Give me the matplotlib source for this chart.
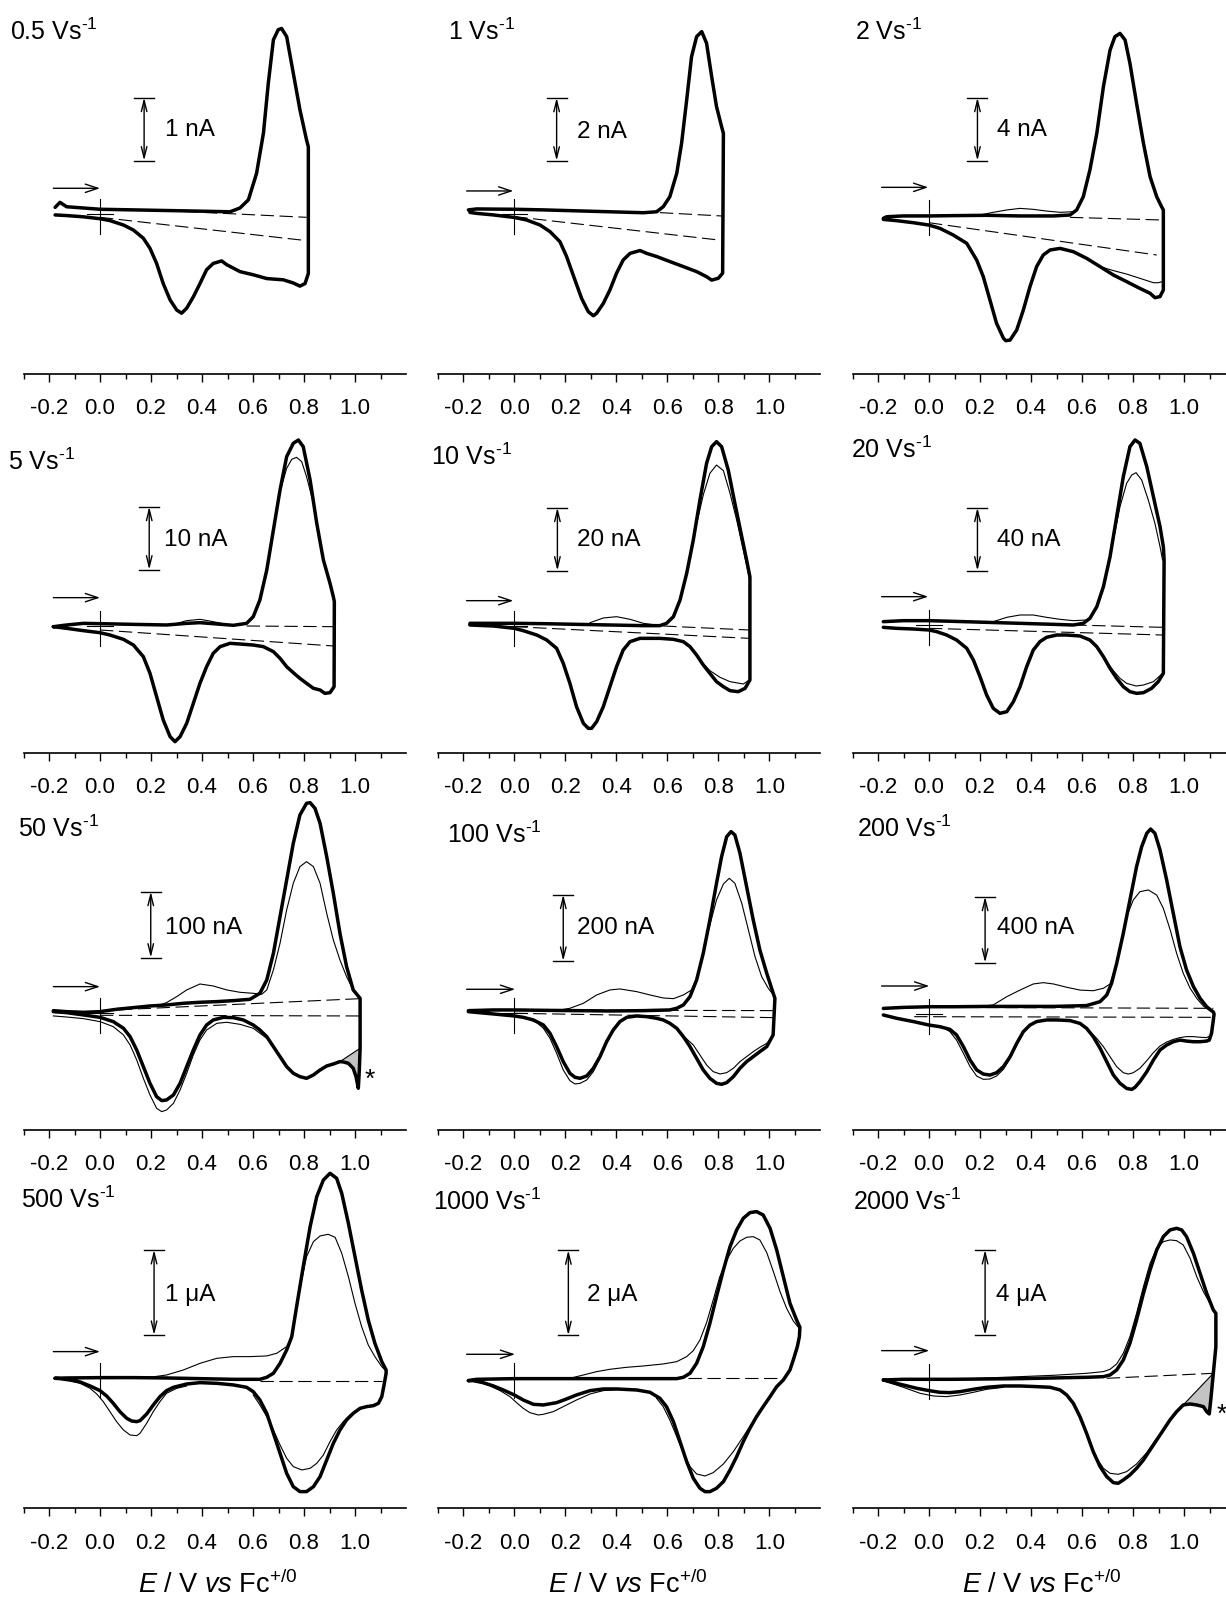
import matplotlib
matplotlib.use("Agg")
import matplotlib.pyplot as plt
from matplotlib.patches import Polygon

plt.rcParams['font.family'] = ['Liberation Sans', 'DejaVu Sans']
plt.rcParams['mathtext.fontset'] = 'custom'
plt.rcParams['mathtext.rm'] = 'Liberation Sans'
plt.rcParams['mathtext.it'] = 'Liberation Sans:italic'
plt.rcParams['mathtext.bf'] = 'Liberation Sans:bold'

# ---------------- data ----------------
# E in V vs Fc+/0, currents in nA (0.5 ... 200 V/s) or uA (500 ... 2000 V/s)

# 0.5 V/s
e05_f = [-0.176, -0.157, -0.131, 0.0, 0.131, 0.261, 0.392, 0.510, 0.549, 0.582, 0.614, 0.641, 0.660, 0.680, 0.699, 0.712, 0.732, 0.758, 0.784, 0.810, 0.817]
i05_f = [0.11, 0.19, 0.12, 0.08, 0.07, 0.06, 0.05, 0.04, 0.10, 0.23, 0.65, 1.29, 2.08, 2.77, 2.93, 2.95, 2.82, 2.24, 1.66, 1.18, 1.07]
e05_r = [0.817, 0.804, 0.784, 0.758, 0.719, 0.654, 0.601, 0.549, 0.497, 0.477, 0.444, 0.418, 0.392, 0.366, 0.340, 0.320, 0.301, 0.275, 0.248, 0.222, 0.196, 0.170, 0.131, 0.092, 0.039, 0.0, -0.065, -0.131, -0.176]
i05_r = [-0.94, -1.10, -1.14, -1.09, -1.04, -1.02, -0.96, -0.91, -0.80, -0.74, -0.78, -0.88, -1.10, -1.31, -1.49, -1.57, -1.52, -1.36, -1.10, -0.78, -0.54, -0.38, -0.25, -0.17, -0.10, -0.07, -0.04, -0.02, -0.01]

# 1 V/s
e1_f = [-0.180, -0.148, 0.0, 0.114, 0.244, 0.375, 0.506, 0.558, 0.584, 0.610, 0.637, 0.656, 0.676, 0.695, 0.715, 0.735, 0.754, 0.774, 0.793, 0.813, 0.820]
i1_f = [0.14, 0.17, 0.16, 0.14, 0.11, 0.08, 0.05, 0.08, 0.24, 0.56, 1.30, 2.25, 3.63, 5.00, 5.64, 5.80, 5.43, 4.37, 3.42, 2.78, 2.57]
e1_r = [0.817, 0.800, 0.774, 0.754, 0.715, 0.663, 0.610, 0.558, 0.519, 0.493, 0.454, 0.427, 0.401, 0.375, 0.349, 0.323, 0.310, 0.290, 0.264, 0.238, 0.205, 0.179, 0.140, 0.101, 0.048, 0.0, -0.082, -0.148, -0.174]
i1_r = [-1.87, -2.03, -2.09, -1.98, -1.82, -1.66, -1.50, -1.34, -1.24, -1.15, -1.24, -1.45, -1.87, -2.40, -2.83, -3.14, -3.22, -3.09, -2.67, -2.09, -1.34, -0.87, -0.55, -0.34, -0.18, -0.10, -0.02, 0.03, 0.06]

# 2 V/s
e2_f = [-0.179, -0.166, -0.101, 0.0, 0.095, 0.226, 0.357, 0.488, 0.553, 0.579, 0.605, 0.631, 0.658, 0.684, 0.710, 0.729, 0.749, 0.769, 0.788, 0.814, 0.841, 0.867, 0.893, 0.912, 0.919]
i2_f = [-0.21, -0.11, -0.06, -0.06, -0.04, -0.02, -0.06, -0.06, 0.0, 0.32, 1.16, 2.86, 5.18, 8.15, 10.47, 11.32, 11.53, 11.11, 9.63, 7.09, 4.55, 2.43, 1.16, 0.53, 0.32]
e2_r = [0.919, 0.906, 0.886, 0.867, 0.827, 0.775, 0.723, 0.671, 0.618, 0.566, 0.514, 0.475, 0.448, 0.422, 0.396, 0.370, 0.344, 0.318, 0.301, 0.292, 0.265, 0.239, 0.213, 0.187, 0.148, 0.095, 0.043, 0.0, -0.061, -0.127, -0.179]
i2_r = [-4.76, -5.18, -5.25, -4.97, -4.66, -4.23, -3.81, -3.28, -2.75, -2.33, -2.12, -2.22, -2.54, -3.28, -4.55, -6.03, -7.30, -7.94, -7.98, -7.83, -6.88, -5.40, -3.92, -2.86, -1.80, -1.27, -0.85, -0.64, -0.49, -0.36, -0.28]
e2_t1 = [0.200, 0.252, 0.305, 0.357, 0.409, 0.461, 0.514, 0.566]
i2_t1 = [0.0, 0.17, 0.32, 0.42, 0.36, 0.25, 0.17, 0.21]
e2_t2 = [0.916, 0.899, 0.880, 0.827, 0.775, 0.723, 0.671]
i2_t2 = [-4.23, -4.30, -4.30, -4.02, -3.75, -3.53, -3.28]

# 5 V/s
e5_f = [-0.183, -0.131, -0.065, 0.0, 0.131, 0.261, 0.340, 0.392, 0.458, 0.523, 0.575, 0.601, 0.627, 0.654, 0.680, 0.706, 0.732, 0.758, 0.778, 0.797, 0.824, 0.850, 0.876, 0.902, 0.915, 0.919]
i5_f = [-0.11, 0.16, 0.42, 0.37, 0.26, 0.16, 0.42, 0.53, 0.32, 0.11, 0.42, 1.48, 4.13, 8.89, 15.24, 21.59, 26.88, 29.00, 29.52, 28.47, 23.17, 16.30, 10.48, 6.77, 4.66, 3.86]
e5_r = [0.918, 0.902, 0.882, 0.863, 0.837, 0.810, 0.784, 0.758, 0.732, 0.706, 0.680, 0.641, 0.601, 0.549, 0.510, 0.471, 0.444, 0.418, 0.392, 0.366, 0.340, 0.314, 0.294, 0.275, 0.248, 0.222, 0.196, 0.170, 0.131, 0.092, 0.039, 0.0, -0.065, -0.131, -0.183]
i5_r = [-9.63, -10.58, -10.69, -10.16, -9.89, -9.10, -8.31, -7.41, -6.46, -5.13, -4.07, -3.28, -3.02, -2.86, -2.75, -3.28, -4.34, -6.46, -9.10, -12.28, -15.45, -17.57, -18.36, -17.57, -14.92, -11.22, -7.51, -4.87, -3.02, -2.12, -1.43, -1.06, -0.74, -0.37, -0.11]
e5_t1 = [0.706, 0.732, 0.752, 0.771, 0.791, 0.810, 0.837]
i5_t1 = [21.32, 25.03, 26.46, 26.77, 26.08, 23.70, 19.47]
e5_t2 = [0.288, 0.340, 0.392, 0.444, 0.497]
i5_t2 = [0.26, 0.85, 1.06, 0.69, 0.26]

# 10 V/s
e10_f = [-0.174, -0.082, 0.0, 0.114, 0.244, 0.375, 0.506, 0.571, 0.597, 0.624, 0.650, 0.676, 0.702, 0.728, 0.754, 0.774, 0.793, 0.813, 0.839, 0.865, 0.892, 0.911, 0.924]
i10_f = [0.85, 0.85, 0.85, 0.74, 0.53, 0.32, 0.11, 0.11, 0.85, 2.96, 8.25, 16.72, 27.30, 40.0, 51.64, 56.93, 58.52, 56.93, 49.52, 38.94, 28.36, 20.95, 15.6]
e10_r = [0.924, 0.905, 0.878, 0.846, 0.820, 0.793, 0.767, 0.741, 0.715, 0.689, 0.663, 0.624, 0.571, 0.519, 0.493, 0.454, 0.427, 0.401, 0.375, 0.349, 0.323, 0.303, 0.290, 0.271, 0.244, 0.218, 0.192, 0.166, 0.127, 0.088, 0.035, 0.0, -0.082, -0.174]
i10_r = [-17.14, -19.79, -20.85, -20.53, -19.26, -17.67, -15.03, -12.38, -9.21, -6.56, -4.97, -4.23, -3.92, -3.92, -3.92, -4.97, -7.62, -12.91, -19.26, -25.61, -30.37, -32.49, -32.49, -30.90, -25.61, -18.20, -11.85, -7.09, -4.44, -2.86, -1.48, -0.74, 0.0, 0.32]
e10_t1 = [0.715, 0.741, 0.767, 0.793, 0.820, 0.846, 0.872, 0.898, 0.922]
i10_t1 = [32.38, 41.59, 48.47, 51.11, 49.31, 42.12, 33.65, 24.13, 15.13]
e10_t2 = [0.297, 0.349, 0.401, 0.454, 0.506, 0.558]
i10_t2 = [1.06, 2.54, 2.96, 2.12, 0.85, 0.32]
e10_t3 = [0.922, 0.898, 0.846, 0.807, 0.767, 0.728]
i10_t3 = [-17.14, -18.41, -17.67, -16.30, -14.18, -10.79]

# 20 V/s
e20_f = [-0.179, -0.101, 0.0, 0.095, 0.226, 0.357, 0.488, 0.566, 0.605, 0.631, 0.658, 0.684, 0.710, 0.736, 0.762, 0.788, 0.808, 0.827, 0.854, 0.880, 0.906, 0.919, 0.922]
i20_f = [2.12, 2.75, 2.75, 2.33, 1.69, 1.06, 0.42, 0.0, 1.06, 4.23, 11.64, 24.34, 43.39, 68.78, 94.18, 113.23, 117.46, 115.34, 100.53, 81.48, 62.43, 49.74, 41.27]
e20_r = [0.919, 0.899, 0.873, 0.841, 0.814, 0.788, 0.762, 0.736, 0.710, 0.684, 0.658, 0.631, 0.592, 0.540, 0.501, 0.461, 0.435, 0.409, 0.383, 0.357, 0.331, 0.305, 0.278, 0.252, 0.226, 0.200, 0.174, 0.148, 0.108, 0.069, 0.030, 0.0, -0.061, -0.127, -0.179]
i20_r = [-30.69, -35.98, -40.21, -42.96, -43.39, -42.33, -39.15, -33.86, -27.51, -20.11, -13.76, -9.52, -6.98, -6.35, -6.35, -7.83, -10.58, -15.87, -26.46, -39.15, -48.68, -55.03, -56.08, -52.91, -44.44, -32.80, -22.22, -14.81, -9.52, -6.35, -4.23, -3.17, -2.54, -2.12, -1.48]
e20_t1 = [0.723, 0.749, 0.775, 0.795, 0.812, 0.834, 0.860, 0.886, 0.906, 0.916]
i20_t1 = [53.97, 75.13, 89.95, 95.24, 96.72, 92.06, 79.37, 64.55, 49.74, 41.27]
e20_t2 = [0.252, 0.305, 0.357, 0.409, 0.461, 0.514, 0.566, 0.618]
i20_t2 = [2.12, 4.87, 6.35, 6.35, 4.87, 3.60, 2.75, 3.17]
e20_t3 = [0.916, 0.880, 0.841, 0.812, 0.775, 0.749, 0.723, 0.697]
i20_t3 = [-30.69, -35.98, -38.10, -38.73, -37.04, -33.86, -28.99, -23.28]

# 50 V/s
e50_f = [-0.183, -0.131, -0.065, 0.0, 0.065, 0.131, 0.196, 0.261, 0.327, 0.392, 0.458, 0.523, 0.588, 0.627, 0.654, 0.680, 0.706, 0.732, 0.758, 0.784, 0.810, 0.824, 0.843, 0.863, 0.889, 0.915, 0.941, 0.967, 0.993, 1.020]
i50_f = [4.0, 2.5, 1.5, 2.5, 6.1, 8.6, 11.1, 12.6, 15.2, 16.7, 17.7, 19.2, 21.2, 30.3, 50.5, 90.9, 146.5, 202.0, 257.6, 300.5, 318.2, 319.2, 310.6, 287.9, 237.4, 181.8, 121.2, 70.7, 35.4, 22.7]
e50_r = [1.020, 1.017, 1.013, 1.004, 0.993, 0.974, 0.954, 0.941, 0.915, 0.889, 0.863, 0.837, 0.810, 0.784, 0.758, 0.732, 0.706, 0.680, 0.654, 0.627, 0.601, 0.562, 0.523, 0.484, 0.444, 0.418, 0.392, 0.366, 0.340, 0.314, 0.288, 0.261, 0.242, 0.222, 0.196, 0.170, 0.144, 0.118, 0.092, 0.052, 0.0, -0.065, -0.131, -0.183]
i50_r = [-53.0, -85.9, -113.6, -96.0, -83.3, -75.8, -73.7, -73.2, -76.8, -79.8, -85.9, -93.4, -98.5, -96.0, -90.9, -80.8, -65.7, -50.5, -35.4, -25.3, -17.7, -10.1, -6.6, -6.1, -10.1, -17.7, -32.8, -55.6, -80.8, -106.1, -123.7, -131.3, -132.3, -126.3, -106.1, -80.8, -55.6, -35.4, -22.7, -12.6, -6.1, -2.5, 1.0, 2.5]
e50_t1 = [0.235, 0.261, 0.301, 0.340, 0.392, 0.444, 0.497, 0.549, 0.601, 0.634, 0.654, 0.680, 0.706, 0.732, 0.758, 0.784, 0.810, 0.837, 0.863, 0.889, 0.915, 0.941, 0.967, 0.993, 1.017]
i50_t1 = [12.6, 16.2, 25.3, 35.4, 44.4, 41.4, 35.4, 31.8, 30.3, 28.8, 35.4, 65.7, 106.1, 156.6, 197.0, 222.2, 229.8, 222.2, 197.0, 151.5, 111.1, 80.8, 55.6, 35.4, 22.7]
e50_t2 = [0.654, 0.601, 0.549, 0.497, 0.458, 0.418, 0.392, 0.366, 0.340, 0.314, 0.288, 0.261, 0.242, 0.222, 0.196, 0.170, 0.144, 0.118, 0.092, 0.052, 0.0, -0.065, -0.131, -0.183]
i50_t2 = [-37.9, -22.7, -16.7, -13.6, -15.2, -25.3, -40.4, -63.1, -90.9, -116.2, -136.4, -146.5, -149.0, -143.9, -123.7, -98.5, -70.7, -48.0, -32.8, -20.2, -12.6, -8.1, -5.6, -4.0]

# 100 V/s
e100_f = [-0.180, -0.082, 0.0, 0.114, 0.244, 0.375, 0.506, 0.610, 0.637, 0.663, 0.689, 0.715, 0.741, 0.767, 0.793, 0.813, 0.833, 0.850, 0.865, 0.885, 0.911, 0.937, 0.963, 0.990, 1.009, 1.022]
i100_f = [8.0, 10.1, 10.1, 9.0, 8.0, 7.0, 8.0, 10.1, 15.1, 25.1, 50.3, 100.5, 180.9, 281.4, 392.0, 472.4, 532.7, 547.7, 537.7, 482.4, 381.9, 281.4, 191.0, 120.6, 75.4, 45.2]
e100_r = [1.015, 0.990, 0.963, 0.937, 0.911, 0.885, 0.859, 0.833, 0.813, 0.793, 0.767, 0.741, 0.715, 0.689, 0.663, 0.637, 0.610, 0.584, 0.558, 0.519, 0.480, 0.441, 0.414, 0.388, 0.362, 0.336, 0.310, 0.284, 0.258, 0.238, 0.218, 0.192, 0.166, 0.140, 0.114, 0.075, 0.035, 0.0, -0.082, -0.180]
i100_r = [-65.3, -100.5, -115.6, -130.7, -145.7, -165.8, -191.0, -209.0, -214.1, -211.1, -196.0, -170.9, -135.7, -100.5, -70.4, -45.2, -30.2, -20.1, -15.1, -10.1, -8.0, -12.1, -25.1, -50.3, -85.4, -130.7, -165.8, -188.9, -196.0, -193.0, -180.9, -145.7, -100.5, -60.3, -35.2, -20.1, -12.1, -8.0, -2.0, 5.0]
e100_t1 = [0.170, 0.218, 0.271, 0.323, 0.375, 0.414, 0.480, 0.532, 0.584, 0.624, 0.663, 0.695, 0.715, 0.741, 0.767, 0.793, 0.820, 0.843, 0.865, 0.892, 0.918, 0.944, 0.970, 0.996, 1.016]
i100_t1 = [9.0, 15.1, 30.2, 55.3, 70.4, 73.4, 65.3, 55.3, 46.2, 44.2, 55.3, 70.4, 105.5, 185.9, 266.3, 341.7, 389.9, 407.0, 392.0, 331.7, 251.3, 170.9, 110.6, 75.4, 55.3]
e100_t2 = [1.013, 0.990, 0.963, 0.937, 0.911, 0.885, 0.859, 0.833, 0.807, 0.780, 0.754, 0.728, 0.702, 0.663]
i100_t2 = [-70.4, -90.5, -102.5, -115.6, -130.7, -145.7, -165.8, -178.9, -182.9, -175.9, -155.8, -125.6, -95.5, -68.3]
e100_t3 = [0.388, 0.362, 0.336, 0.310, 0.284, 0.258, 0.238, 0.218, 0.192, 0.166, 0.140, 0.114, 0.088, 0.048]
i100_t3 = [-52.3, -90.5, -135.7, -175.9, -201.0, -211.1, -213.1, -203.0, -170.9, -120.6, -75.4, -45.2, -28.1, -15.1]

# 200 V/s
e200_f = [-0.179, -0.101, 0.0, 0.095, 0.226, 0.357, 0.488, 0.618, 0.671, 0.697, 0.716, 0.736, 0.762, 0.788, 0.814, 0.834, 0.854, 0.869, 0.886, 0.906, 0.932, 0.958, 0.984, 1.010, 1.037, 1.063, 1.089, 1.115]
i200_f = [34, 40, 44, 44, 46, 46, 46, 51, 75, 115, 186, 307, 489, 691, 893, 1014, 1095, 1121, 1095, 994, 812, 610, 408, 267, 166, 95, 44, 12]
e200_r = [1.118, 1.115, 1.108, 1.099, 1.089, 1.063, 1.037, 1.010, 0.984, 0.958, 0.932, 0.906, 0.880, 0.854, 0.827, 0.808, 0.795, 0.775, 0.749, 0.723, 0.697, 0.671, 0.644, 0.618, 0.592, 0.553, 0.501, 0.461, 0.422, 0.396, 0.370, 0.344, 0.318, 0.292, 0.265, 0.239, 0.213, 0.187, 0.161, 0.135, 0.108, 0.082, 0.043, 0.0, -0.061, -0.127, -0.179]
i200_r = [0, -36, -117, -158, -164, -168, -168, -164, -158, -168, -188, -218, -279, -350, -410, -444, -457, -451, -420, -370, -289, -208, -137, -87, -57, -40, -36, -36, -46, -67, -107, -178, -259, -319, -356, -370, -364, -339, -279, -198, -127, -93, -77, -67, -46, -26, -6]
e200_t1 = [0.200, 0.252, 0.305, 0.357, 0.409, 0.448, 0.488, 0.540, 0.592, 0.644, 0.684, 0.710, 0.736, 0.762, 0.775, 0.801, 0.827, 0.860, 0.893, 0.919, 0.946, 0.971, 0.997, 1.024, 1.050, 1.076, 1.102, 1.115]
i200_t1 = [46, 55, 105, 145, 182, 190, 182, 162, 145, 141, 156, 182, 307, 489, 590, 691, 741, 752, 721, 640, 509, 368, 247, 156, 95, 48, 20, 8]
e200_t2 = [1.108, 1.089, 1.063, 1.037, 1.010, 0.984, 0.958, 0.932, 0.906, 0.880, 0.854, 0.827, 0.801, 0.782, 0.762, 0.736, 0.710, 0.684, 0.658, 0.631]
i200_t2 = [-127, -143, -141, -137, -137, -143, -154, -170, -194, -234, -283, -329, -356, -364, -356, -319, -259, -198, -148, -107]
e200_t3 = [0.370, 0.344, 0.318, 0.292, 0.265, 0.239, 0.213, 0.187, 0.161, 0.135, 0.108, 0.082, 0.056]
i200_t3 = [-111, -188, -269, -335, -376, -394, -396, -376, -319, -238, -158, -107, -83]

# 500 V/s (uA)
e500_f = [-0.176, -0.131, 0.0, 0.131, 0.261, 0.392, 0.523, 0.627, 0.654, 0.680, 0.706, 0.732, 0.752, 0.771, 0.797, 0.824, 0.850, 0.876, 0.902, 0.928, 0.948, 0.974, 1.000, 1.026, 1.052, 1.078, 1.105, 1.122]
i500_f = [0.0, 0.004, 0.008, 0.008, 0.004, -0.004, -0.012, -0.012, 0.012, 0.059, 0.176, 0.333, 0.490, 0.843, 1.314, 1.784, 2.137, 2.333, 2.412, 2.353, 2.176, 1.824, 1.431, 1.039, 0.686, 0.412, 0.196, 0.098]
e500_r = [1.122, 1.114, 1.105, 1.092, 1.072, 1.046, 1.020, 0.993, 0.967, 0.941, 0.915, 0.889, 0.863, 0.837, 0.810, 0.784, 0.758, 0.732, 0.706, 0.680, 0.654, 0.627, 0.601, 0.575, 0.523, 0.458, 0.392, 0.340, 0.288, 0.261, 0.235, 0.209, 0.183, 0.157, 0.144, 0.124, 0.105, 0.078, 0.052, 0.026, 0.0, -0.039, -0.078, -0.118, -0.157, -0.176]
i500_r = [0.059, -0.078, -0.216, -0.294, -0.322, -0.333, -0.353, -0.412, -0.490, -0.608, -0.765, -0.961, -1.157, -1.275, -1.333, -1.333, -1.275, -1.118, -0.882, -0.647, -0.412, -0.255, -0.157, -0.106, -0.078, -0.059, -0.051, -0.067, -0.106, -0.145, -0.216, -0.314, -0.420, -0.498, -0.510, -0.502, -0.471, -0.392, -0.294, -0.208, -0.145, -0.090, -0.043, -0.020, -0.004, 0.0]
e500_t1 = [0.196, 0.261, 0.327, 0.392, 0.458, 0.523, 0.588, 0.654, 0.693, 0.732, 0.752, 0.771, 0.791, 0.810, 0.837, 0.863, 0.895, 0.922, 0.948, 0.974, 1.000, 1.026, 1.052, 1.078, 1.105, 1.118]
i500_t1 = [0.012, 0.039, 0.098, 0.176, 0.235, 0.255, 0.255, 0.263, 0.294, 0.373, 0.471, 0.824, 1.157, 1.431, 1.608, 1.675, 1.694, 1.659, 1.471, 1.196, 0.882, 0.608, 0.392, 0.255, 0.137, 0.098]
e500_t2 = [1.072, 1.020, 0.980, 0.954, 0.928, 0.902, 0.876, 0.850, 0.824, 0.791, 0.758, 0.732, 0.706, 0.680, 0.654, 0.627, 0.601]
i500_t2 = [-0.322, -0.353, -0.431, -0.510, -0.608, -0.745, -0.902, -1.000, -1.059, -1.078, -1.039, -0.941, -0.784, -0.608, -0.451, -0.314, -0.196]
e500_t3 = [0.340, 0.301, 0.261, 0.235, 0.209, 0.183, 0.157, 0.144, 0.118, 0.092, 0.065, 0.039, 0.013, -0.013, -0.039, -0.078, -0.118, -0.157]
i500_t3 = [-0.090, -0.118, -0.176, -0.275, -0.392, -0.529, -0.647, -0.675, -0.667, -0.608, -0.510, -0.392, -0.275, -0.184, -0.118, -0.059, -0.027, -0.004]

# 1000 V/s (uA)
e1000_f = [-0.180, -0.148, 0.0, 0.114, 0.244, 0.375, 0.506, 0.637, 0.663, 0.689, 0.715, 0.741, 0.767, 0.793, 0.820, 0.846, 0.872, 0.898, 0.924, 0.950, 0.976, 1.003, 1.029, 1.055, 1.081, 1.107, 1.120]
i1000_f = [-0.055, -0.024, -0.008, -0.008, -0.008, -0.008, -0.008, -0.008, 0.024, 0.118, 0.353, 0.745, 1.294, 1.922, 2.549, 3.098, 3.490, 3.765, 3.898, 3.922, 3.843, 3.529, 3.020, 2.392, 1.765, 1.373, 1.200]
e1000_r = [1.118, 1.110, 1.094, 1.081, 1.055, 1.029, 1.003, 0.976, 0.950, 0.924, 0.898, 0.872, 0.846, 0.820, 0.793, 0.767, 0.748, 0.728, 0.702, 0.676, 0.650, 0.624, 0.597, 0.571, 0.532, 0.480, 0.401, 0.349, 0.297, 0.244, 0.205, 0.166, 0.114, 0.075, 0.035, 0.0, -0.043, -0.082, -0.122, -0.161, -0.180]
i1000_r = [0.980, 0.745, 0.431, 0.196, -0.039, -0.196, -0.431, -0.667, -0.902, -1.176, -1.490, -1.843, -2.157, -2.431, -2.588, -2.667, -2.667, -2.588, -2.353, -1.961, -1.490, -1.020, -0.667, -0.471, -0.329, -0.275, -0.251, -0.251, -0.290, -0.392, -0.486, -0.573, -0.627, -0.612, -0.510, -0.392, -0.275, -0.180, -0.102, -0.055, -0.055]
e1000_t1 = [0.218, 0.271, 0.323, 0.375, 0.441, 0.506, 0.584, 0.637, 0.676, 0.702, 0.728, 0.754, 0.780, 0.806, 0.833, 0.859, 0.885, 0.911, 0.937, 0.963, 0.990, 1.016, 1.042, 1.068, 1.094, 1.114]
i1000_t1 = [0.0, 0.078, 0.157, 0.212, 0.259, 0.290, 0.337, 0.392, 0.510, 0.651, 0.902, 1.310, 1.843, 2.392, 2.784, 3.059, 3.231, 3.318, 3.333, 3.255, 2.957, 2.510, 2.039, 1.647, 1.349, 1.200]
e1000_t2 = [0.950, 0.898, 0.859, 0.820, 0.780, 0.748, 0.715, 0.689, 0.663, 0.637, 0.610, 0.584, 0.558]
i1000_t2 = [-0.886, -1.373, -1.725, -2.016, -2.220, -2.298, -2.251, -2.078, -1.765, -1.373, -0.980, -0.667, -0.471]
e1000_t3 = [0.401, 0.349, 0.297, 0.244, 0.192, 0.153, 0.114, 0.094, 0.061, 0.035, 0.009, -0.017, -0.056, -0.095, -0.135, -0.161]
i1000_t3 = [-0.267, -0.290, -0.369, -0.510, -0.667, -0.784, -0.847, -0.863, -0.808, -0.706, -0.573, -0.431, -0.290, -0.180, -0.102, -0.055]

# 2000 V/s (uA)
e2000_f = [-0.179, -0.101, 0.0, 0.095, 0.226, 0.357, 0.488, 0.618, 0.684, 0.710, 0.736, 0.762, 0.788, 0.814, 0.841, 0.867, 0.893, 0.919, 0.945, 0.971, 0.991, 1.010, 1.037, 1.063, 1.089, 1.115, 1.125]
i2000_f = [-0.031, 0.0, 0.0, 0.0, 0.016, 0.031, 0.063, 0.094, 0.125, 0.204, 0.439, 0.910, 1.694, 2.792, 4.047, 5.145, 6.086, 6.714, 7.027, 7.106, 7.027, 6.714, 5.929, 4.988, 4.047, 3.263, 3.106]
e2000_r = [1.125, 1.115, 1.105, 1.099, 1.089, 1.076, 1.050, 1.024, 0.997, 0.971, 0.945, 0.919, 0.893, 0.867, 0.841, 0.814, 0.788, 0.762, 0.742, 0.723, 0.697, 0.671, 0.644, 0.618, 0.592, 0.566, 0.540, 0.514, 0.475, 0.422, 0.357, 0.292, 0.226, 0.174, 0.122, 0.082, 0.043, 0.0, -0.048, -0.101, -0.140, -0.179]
i2000_r = [1.537, 0.282, -0.973, -1.631, -1.522, -1.286, -1.208, -1.161, -1.208, -1.522, -1.914, -2.384, -2.855, -3.325, -3.796, -4.188, -4.502, -4.737, -4.894, -4.863, -4.580, -4.110, -3.404, -2.541, -1.757, -1.129, -0.737, -0.502, -0.376, -0.345, -0.314, -0.314, -0.376, -0.471, -0.580, -0.627, -0.612, -0.533, -0.424, -0.267, -0.157, -0.031]
e2000_t1 = [0.095, 0.226, 0.357, 0.488, 0.618, 0.684, 0.710, 0.736, 0.762, 0.788, 0.814, 0.841, 0.867, 0.893, 0.919, 0.945, 0.971, 0.997, 1.024, 1.050, 1.076, 1.102, 1.118]
i2000_t1 = [0.0, 0.063, 0.125, 0.188, 0.282, 0.361, 0.471, 0.722, 1.224, 2.008, 3.106, 4.361, 5.459, 6.165, 6.478, 6.557, 6.525, 6.322, 5.694, 4.831, 4.125, 3.576, 3.184]
e2000_t2 = [0.893, 0.854, 0.814, 0.775, 0.742, 0.710, 0.684, 0.658, 0.631, 0.605, 0.579]
i2000_t2 = [-2.776, -3.451, -3.984, -4.345, -4.471, -4.424, -4.188, -3.718, -2.933, -2.102, -1.443]
e2000_t3 = [0.292, 0.226, 0.174, 0.122, 0.069, 0.017, -0.035, -0.101, -0.140, -0.179]
i2000_t3 = [-0.376, -0.471, -0.612, -0.737, -0.816, -0.784, -0.659, -0.376, -0.220, -0.063]

rates = ['0.5', '1', '2', '5', '10', '20', '50', '100', '200', '500', '1000', '2000']
bar_values = [1, 2, 4, 10, 20, 40, 100, 200, 400, 1, 2, 4]
bar_units = ['nA'] * 9 + ['\u03bcA'] * 3

# baselines (dashed): ((E0, E1), (i0, i1))
dashes_all = [
    [((0.26, 0.81), (0.058, -0.048)), ((0.0, 0.81), (-0.048, -0.418))],
    [((0.571, 0.813), (0.053, -0.053)), ((0.0, 0.800), (-0.074, -0.815))],
    [((0.553, 0.919), (-0.15, -0.32)), ((0.0, 0.893), (-0.49, -2.54))],
    [((0.575, 0.915), (0.0, -0.11)), ((0.0, 0.915), (-0.63, -3.17))],
    [((0.584, 0.922), (0.0, -1.27)), ((0.0, 0.922), (-0.21, -3.92))],
    [((0.566, 0.916), (0.0, -1.48)), ((0.0, 0.916), (-2.12, -6.35))],
    [((0.0, 1.020), (4.04, 22.2)), ((0.0, 1.020), (-3.03, -4.04))],
    [((0.0, 1.016), (10.05, 8.04)), ((0.0, 1.016), (0.0, -13.07))],
    [((0.0, 1.115), (40.4, 34.3)), ((-0.058, 1.115), (-16.2, -20.2))],
    [((0.627, 1.105), (-0.027, -0.027))],
    [((0.68, 1.04), (0.0, 0.0))],
    [((0.697, 1.115), (0.047, 0.282))],
]

loops = [(e05_f, i05_f, e05_r, i05_r), (e1_f, i1_f, e1_r, i1_r), (e2_f, i2_f, e2_r, i2_r),
         (e5_f, i5_f, e5_r, i5_r), (e10_f, i10_f, e10_r, i10_r), (e20_f, i20_f, e20_r, i20_r),
         (e50_f, i50_f, e50_r, i50_r), (e100_f, i100_f, e100_r, i100_r), (e200_f, i200_f, e200_r, i200_r),
         (e500_f, i500_f, e500_r, i500_r), (e1000_f, i1000_f, e1000_r, i1000_r), (e2000_f, i2000_f, e2000_r, i2000_r)]
thins = [[], [], [(e2_t1, i2_t1), (e2_t2, i2_t2)],
         [(e5_t1, i5_t1), (e5_t2, i5_t2)],
         [(e10_t1, i10_t1), (e10_t2, i10_t2), (e10_t3, i10_t3)],
         [(e20_t1, i20_t1), (e20_t2, i20_t2), (e20_t3, i20_t3)],
         [(e50_t1, i50_t1), (e50_t2, i50_t2)],
         [(e100_t1, i100_t1), (e100_t2, i100_t2), (e100_t3, i100_t3)],
         [(e200_t1, i200_t1), (e200_t2, i200_t2), (e200_t3, i200_t3)],
         [(e500_t1, i500_t1), (e500_t2, i500_t2), (e500_t3, i500_t3)],
         [(e1000_t1, i1000_t1), (e1000_t2, i1000_t2), (e1000_t3, i1000_t3)],
         [(e2000_t1, i2000_t1), (e2000_t2, i2000_t2), (e2000_t3, i2000_t3)]]
# shaded regions: slice of the reverse branch (start, stop), and asterisk point
shaded = {6: ((0, 8), (1.059, -101.0)), 11: ((1, 9), (1.148, -1.68))}

# ---------------- layout (pixels of the 1226x1604 canvas) ----------------
W, H = 1226, 1604
PX_PER_V = 255.0
col_zero = [100.0, 514.3, 929.0]
axis_line = [374.0, 753.0, 1130.0, 1508.3]
AX_H = 365.0
# zero-current pixel row and pixels per current unit
zero_px = [214.3, 214.3, 215.0, 626.0, 626.0, 625.0, 1013.3, 1013.3, 1014.0, 1378.3, 1378.3, 1379.3]
px_per_unit = [63.0, 31.5, 15.75, 6.3, 3.15, 1.575, 0.66, 0.3317, 0.165, 85.0, 42.5, 21.25]
title_xy = [(10, 40), (448, 40), (855, 40), (8, 470), (431, 465), (851, 458),
            (18, 837), (447, 843), (857, 837), (21, 1208), (433, 1210), (853, 1210)]
bar_pos = [(0.173, 1.852), (0.166, 3.70), (0.190, 7.449), (0.193, 18.94), (0.169, 37.57), (0.190, 74.50),
           (0.199, 184.3), (0.192, 357.8), (0.220, 711.1), (0.212, 1.510), (0.212, 3.012), (0.220, 6.086)]
bar_label_pos = [(0.255, 1.339), (0.244, 2.62), (0.265, 5.40), (0.251, 13.65), (0.244, 27.30), (0.265, 53.97),
                 (0.255, 128.8), (0.244, 256.3), (0.265, 519.2), (0.255, 0.980), (0.284, 1.961), (0.263, 3.969)]
arrow_pos = [(-0.183, 0.0, 0.413), (-0.187, -0.004, 0.741), (-0.186, -0.003, 1.756), (-0.183, 0.0, 4.50),
             (-0.187, -0.004, 8.04), (-0.186, -0.003, 17.99), (-0.183, 0.0, 40.4), (-0.187, 0.003, 72.4),
             (-0.186, 0.001, 169.7), (-0.183, 0.0, 0.314), (-0.187, 0.003, 0.565), (-0.186, 0.001, 1.349)]

major = [-0.2, 0.0, 0.2, 0.4, 0.6, 0.8, 1.0]
minor = [-0.3, -0.1, 0.1, 0.3, 0.5, 0.7, 0.9, 1.1]

fig = plt.figure(figsize=(W / 100, H / 100), dpi=100)

for n in range(12):
    row, col = divmod(n, 3)
    x0 = col_zero[col]
    yb = axis_line[row]
    left = x0 - 0.3 * PX_PER_V
    ax = fig.add_axes([left / W, 1 - yb / H, 1.5 * PX_PER_V / W, AX_H / H])
    ax.patch.set_visible(False)
    k = px_per_unit[n]
    y0 = zero_px[n]
    ax.set_xlim(-0.3, 1.2)
    ax.set_ylim(-(yb - y0) / k, (y0 - (yb - AX_H)) / k)
    for s in ['left', 'right', 'top']:
        ax.spines[s].set_visible(False)
    ax.spines['bottom'].set_linewidth(1.2)
    ax.set_yticks([])
    ax.set_xticks(major)
    ax.set_xticklabels(['-0.2', '0.0', '0.2', '0.4', '0.6', '0.8', '1.0'])
    ax.set_xticks(minor, minor=True)
    ax.tick_params(axis='x', which='major', length=6, width=1.0, labelsize=16, pad=11.5)
    ax.tick_params(axis='x', which='minor', length=3.5, width=1.0)

    ef, jf, er, jr = loops[n]
    ax.plot(list(ef) + list(er), list(jf) + list(jr), color='k', lw=2.5,
            solid_joinstyle='round', solid_capstyle='round', zorder=4)
    for te, ti in thins[n]:
        ax.plot(te, ti, color='k', lw=0.8, zorder=3)
    for (ea, eb), (ia, ib) in dashes_all[n]:
        ax.plot([ea, eb], [ia, ib], color='k', lw=0.8, dashes=(12, 5), zorder=2)

    if n in shaded:
        (a, b), (ax_e, ax_i) = shaded[n]
        pts = list(zip(er[a:b], jr[a:b]))
        ax.add_patch(Polygon(pts, closed=True, facecolor='#c4c4c4', edgecolor='k', lw=0.8, zorder=3))
        ax.text(ax_e, ax_i, '*', fontsize=19, ha='center', va='center', clip_on=False)

    # origin cross
    ax.plot([0, 0], [15 / k, -20 / k], color='k', lw=0.8)
    ax.plot([-0.05, 0.05], [0, 0], color='k', lw=0.8)

    # scan direction arrow
    a0, a1, ai = arrow_pos[n]
    ax.annotate('', xy=(a1, ai), xytext=(a0, ai),
                arrowprops=dict(arrowstyle='->,head_length=0.9,head_width=0.3', lw=1.0, color='k',
                                shrinkA=0, shrinkB=0, mutation_scale=10))

    # current scale bar
    be, bt = bar_pos[n]
    bv = bar_values[n]
    ax.annotate('', xy=(be, bt), xytext=(be, bt - bv),
                arrowprops=dict(arrowstyle='<->,head_length=0.8,head_width=0.2', lw=1.0, color='k',
                                shrinkA=0, shrinkB=0, mutation_scale=10))
    cap = 10 / PX_PER_V
    ax.plot([be - cap, be + cap], [bt, bt], color='k', lw=1.0)
    ax.plot([be - cap, be + cap], [bt - bv, bt - bv], color='k', lw=1.0)
    le, li = bar_label_pos[n]
    ax.text(le, li, '%d %s' % (bv, bar_units[n]), fontsize=17.5, ha='left', va='center')

    tx, ty = title_xy[n]
    fig.text(tx / W, 1 - ty / H, rates[n] + r' Vs$^{\text{-}1}$', fontsize=18, ha='left', va='baseline')

for cx in [218, 628, 1042]:
    fig.text(cx / W, 1 - 1593 / H, r'$E$ / V $vs$ Fc$^{+/0}$', fontsize=19.5, ha='center', va='baseline')

fig.savefig('out.png', dpi=100)
